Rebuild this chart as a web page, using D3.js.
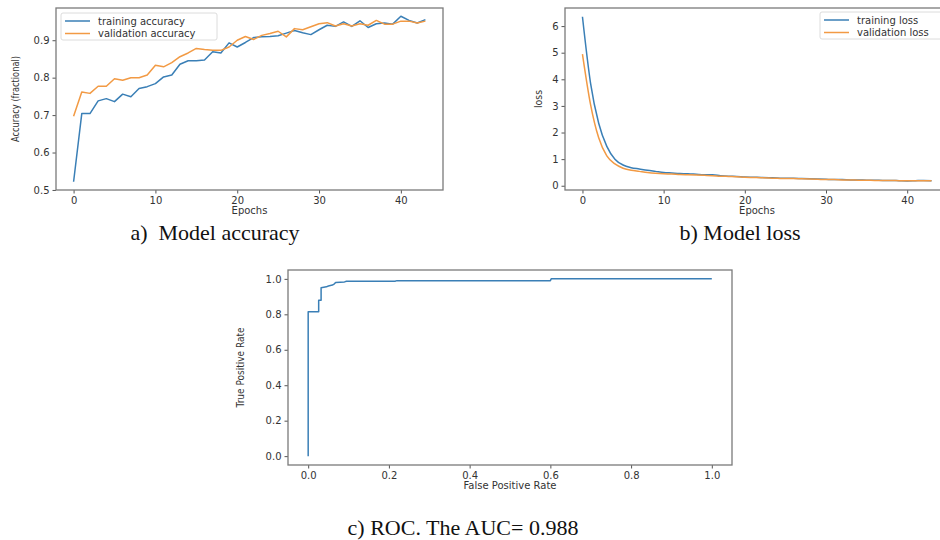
<!DOCTYPE html>
<html>
<head>
<meta charset="utf-8">
<script src="https://cdn.jsdelivr.net/npm/d3@7/dist/d3.min.js"></script>
<style>
  html, body { margin: 0; padding: 0; background: #fff; }
  svg { display: block; }
</style>
</head>
<body>
<svg id="chart" width="940" height="540"></svg>
<script>
// ---------- DATA ----------
const trainAcc = [0.522, 0.704, 0.704, 0.738, 0.744, 0.736, 0.756, 0.749, 0.771, 0.776,
  0.784, 0.802, 0.807, 0.836, 0.845, 0.845, 0.847, 0.869, 0.866, 0.893,
  0.882, 0.894, 0.907, 0.909, 0.910, 0.912, 0.919, 0.926, 0.920, 0.915,
  0.928, 0.940, 0.937, 0.949, 0.937, 0.952, 0.934, 0.944, 0.946, 0.943,
  0.964, 0.953, 0.946, 0.955];
const valAcc = [0.697, 0.762, 0.758, 0.777, 0.777, 0.797, 0.793, 0.800, 0.800, 0.807,
  0.833, 0.829, 0.840, 0.856, 0.866, 0.878, 0.875, 0.873, 0.873, 0.882,
  0.900, 0.910, 0.902, 0.913, 0.918, 0.924, 0.909, 0.931, 0.928, 0.936,
  0.944, 0.947, 0.938, 0.944, 0.938, 0.944, 0.940, 0.953, 0.943, 0.943,
  0.951, 0.951, 0.946, 0.951];
const trainLoss = [6.35, 3.85, 2.35, 1.48, 1.00, 0.78, 0.68, 0.63, 0.58, 0.54,
  0.50, 0.48, 0.46, 0.45, 0.43, 0.41, 0.41, 0.38, 0.36, 0.35,
  0.33, 0.32, 0.31, 0.30, 0.29, 0.28, 0.28, 0.27, 0.26, 0.25,
  0.24, 0.23, 0.23, 0.22, 0.22, 0.21, 0.21, 0.20, 0.20, 0.19,
  0.18, 0.19, 0.20, 0.19];
const valLoss = [4.95, 3.05, 1.80, 1.12, 0.82, 0.66, 0.58, 0.54, 0.50, 0.47,
  0.45, 0.44, 0.42, 0.41, 0.40, 0.39, 0.38, 0.36, 0.35, 0.34,
  0.32, 0.31, 0.30, 0.29, 0.28, 0.27, 0.27, 0.26, 0.25, 0.24,
  0.23, 0.23, 0.22, 0.22, 0.21, 0.21, 0.20, 0.20, 0.20, 0.19,
  0.19, 0.19, 0.19, 0.19];
const rocFpr = [0, 0, 0.026, 0.026, 0.032, 0.032, 0.045, 0.050, 0.060, 0.065, 0.068, 0.090, 0.095, 0.215, 0.220, 0.600, 0.602, 1.0];
const rocTpr = [0, 0.815, 0.815, 0.880, 0.880, 0.950, 0.955, 0.960, 0.965, 0.972, 0.980, 0.983, 0.987, 0.987, 0.990, 0.990, 1.0, 1.0];

const accTicks = [0.5, 0.6, 0.7, 0.8, 0.9];
const lossTicks = [0, 1, 2, 3, 4, 5, 6];
const epochTicks = [0, 10, 20, 30, 40];
const rocTicks = [0.0, 0.2, 0.4, 0.6, 0.8, 1.0];

const BLUE = "#3a7fb6";
const ORANGE = "#f29a44";

const svg = d3.select("#chart");

function makePanel(opt) {
  const x = d3.scaleLinear().domain(opt.xDomain).range([opt.left, opt.right]);
  const y = d3.scaleLinear().domain(opt.yDomain).range([opt.bottom, opt.top]);
  const g = svg.append("g");

  const xAxis = d3.axisBottom(x).tickValues(opt.xTicks).tickSize(3.5).tickPadding(3).tickFormat(opt.xFmt);
  const yAxis = d3.axisLeft(y).tickValues(opt.yTicks).tickSize(3.5).tickPadding(3).tickFormat(opt.yFmt);
  const gx = g.append("g").attr("transform", `translate(0,${opt.bottom})`).call(xAxis);
  const gy = g.append("g").attr("transform", `translate(${opt.left},0)`).call(yAxis);
  [gx, gy].forEach(a => {
    a.select(".domain").remove();
    a.selectAll(".tick line").attr("stroke", "#555").attr("stroke-width", 1);
    a.selectAll(".tick text").attr("fill", "#333").style("font-family", "DejaVu Sans").style("font-size", "10px");
  });

  const clipId = "clip" + Math.round(opt.left);
  g.append("clipPath").attr("id", clipId).append("rect")
    .attr("x", opt.left).attr("y", opt.top).attr("width", opt.right - opt.left).attr("height", opt.bottom - opt.top);
  opt.series.forEach(s => {
    const line = d3.line().curve(opt.curve || d3.curveLinear)
      .x((d, i) => x(s.xs ? s.xs[i] : i)).y(d => y(d));
    g.append("path").datum(s.values).attr("d", line)
      .attr("fill", "none").attr("stroke", s.color).attr("stroke-width", 1.5)
      .attr("stroke-linejoin", "round").attr("clip-path", `url(#${clipId})`);
  });

  g.append("rect").attr("x", opt.left).attr("y", opt.top)
    .attr("width", opt.right - opt.left).attr("height", opt.bottom - opt.top)
    .attr("fill", "none").attr("stroke", "#7a7a7a").attr("stroke-width", 1.3);

  g.append("text").attr("x", (opt.left + opt.right) / 2).attr("y", opt.bottom + 24)
    .attr("text-anchor", "middle").attr("fill", "#333")
    .style("font-family", "DejaVu Sans").style("font-size", "10px").text(opt.xLabel);
  g.append("text").attr("transform", `translate(${opt.yLabelX},${(opt.top + opt.bottom) / 2}) rotate(-90)`)
    .attr("text-anchor", "middle").attr("fill", "#333")
    .attr("textLength", opt.yLabelLen).attr("lengthAdjust", "spacingAndGlyphs")
    .style("font-family", "DejaVu Sans").style("font-size", "10px").text(opt.yLabel);

  if (opt.legend) {
    const L = opt.legend;
    g.append("rect").attr("x", L.x).attr("y", L.y).attr("width", L.w).attr("height", 27)
      .attr("rx", 2).attr("fill", "#fff").attr("fill-opacity", 0.85)
      .attr("stroke", "#dcdcdc").attr("stroke-width", 1);
    opt.series.forEach((s, i) => {
      const yy = L.y + 8 + i * 12.5;
      g.append("line").attr("x1", L.x + 4).attr("x2", L.x + 29).attr("y1", yy).attr("y2", yy)
        .attr("stroke", s.color).attr("stroke-width", 1.5);
      g.append("text").attr("x", L.x + 37).attr("y", yy + 3.5).attr("fill", "#333")
        .style("font-family", "DejaVu Sans").style("font-size", "10px").text(s.name);
    });
  }
  return g;
}

const fmt1 = d3.format(".1f");
const fmt0 = d3.format("d");

makePanel({
  left: 56, right: 443, top: 8, bottom: 190,
  xDomain: [-2.15, 45.15], yDomain: [0.4999, 0.9861],
  xTicks: epochTicks, yTicks: accTicks, xFmt: fmt0, yFmt: fmt1,
  xLabel: "Epochs", yLabel: "Accuracy (fractional)", yLabelX: 19, yLabelLen: 86,
  series: [
    { name: "training accuracy", values: trainAcc, color: BLUE },
    { name: "validation accuracy", values: valAcc, color: ORANGE }
  ],
  legend: { x: 61, y: 13, w: 156 }
});

makePanel({
  left: 565, right: 949, top: 8, bottom: 190,
  xDomain: [-2.15, 45.15], yDomain: [-0.16, 6.68],
  xTicks: epochTicks, yTicks: lossTicks, xFmt: fmt0, yFmt: fmt0,
  xLabel: "Epochs", yLabel: "loss", yLabelX: 542, yLabelLen: 18,
  curve: d3.curveMonotoneX,
  series: [
    { name: "training loss", values: trainLoss, color: BLUE },
    { name: "validation loss", values: valLoss, color: ORANGE }
  ],
  legend: { x: 820, y: 12, w: 126 }
});

makePanel({
  left: 288, right: 732, top: 270, bottom: 465,
  xDomain: [-0.05, 1.05], yDomain: [-0.05, 1.05],
  xTicks: rocTicks, yTicks: rocTicks, xFmt: fmt1, yFmt: fmt1,
  xLabel: "False Positive Rate", yLabel: "True Positive Rate", yLabelX: 244, yLabelLen: 80,
  series: [
    { name: "ROC", values: rocTpr, xs: rocFpr, color: BLUE }
  ]
});

const captions = [
  { text: "a)  Model accuracy", x: 215, y: 240 },
  { text: "b) Model loss", x: 740, y: 240 },
  { text: "c) ROC. The AUC= 0.988", x: 463, y: 535 }
];
svg.selectAll("text.caption").data(captions).enter().append("text")
  .attr("class", "caption").attr("x", d => d.x).attr("y", d => d.y)
  .attr("text-anchor", "middle").attr("fill", "#111")
  .style("white-space", "pre")
  .style("font-family", "Liberation Serif").style("font-size", "22px")
  .text(d => d.text);
</script>
</body>
</html>
